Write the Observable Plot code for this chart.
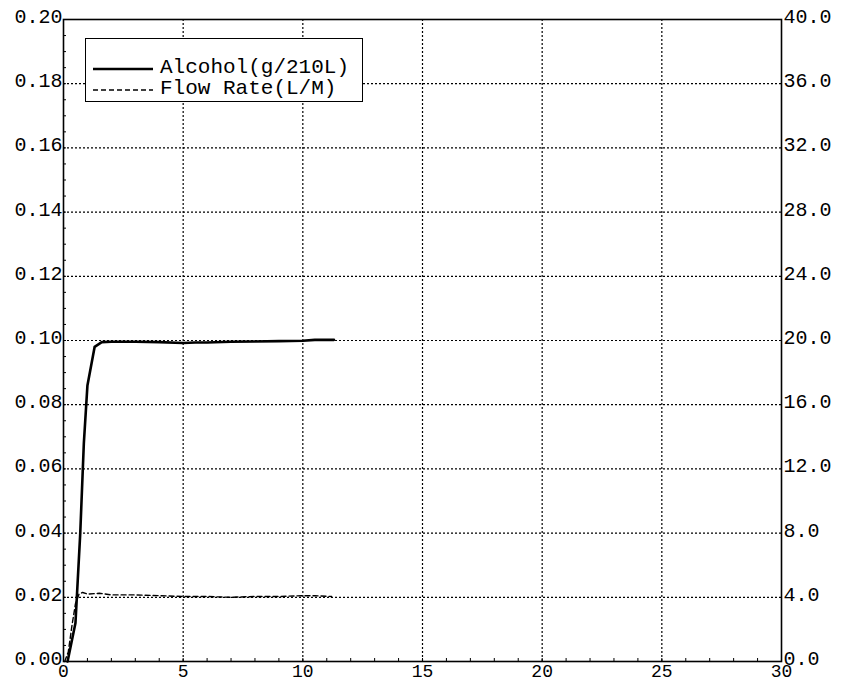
<!DOCTYPE html>
<html>
<head>
<meta charset="utf-8">
<script src="https://cdn.jsdelivr.net/npm/d3@7"></script>
<script src="https://cdn.jsdelivr.net/npm/@observablehq/plot@0.6"></script>
<style>
  body { margin: 0; background: #fff; }
  #wrap { position: relative; width: 849px; height: 686px; }
  #legend {
    position: absolute; left: 85px; top: 38px; width: 276px; height: 62px;
    border: 1.5px solid #000; background: #fff; box-sizing: content-box;
    font-family: "Liberation Mono", monospace; font-size: 21px; color: #000;
  }
  .row { position: absolute; left: 0; height: 22px; line-height: 22px; white-space: nowrap; }
  .row svg { position: absolute; left: 7px; top: 0; }
  .row span { position: absolute; left: 74px; top: 0; }
</style>
</head>
<body>
<div id="wrap">
  <div id="chart"></div>
  <div id="legend">
    <div class="row" style="top:18px"><svg width="62" height="22"><line x1="0" y1="12" x2="60" y2="12" stroke="#000" stroke-width="2.5"/></svg><span>Alcohol(g/210L)</span></div>
    <div class="row" style="top:39px"><svg width="62" height="22"><line x1="0" y1="12" x2="60" y2="12" stroke="#000" stroke-width="1.3" stroke-dasharray="5,3"/></svg><span>Flow Rate(L/M)</span></div>
  </div>
</div>
<script>
// Alcohol concentration (g/210L) vs time (s)
const alcoholTime  = [0.17, 0.5, 0.7, 0.85, 1.0, 1.3, 1.6, 2, 3, 4, 5, 5.5, 6, 7, 8, 9, 10, 10.5, 11.3];
const alcoholValue = [0.000, 0.012, 0.040, 0.068, 0.086, 0.098, 0.0995, 0.0996, 0.0996, 0.0995, 0.0992, 0.0994, 0.0994, 0.0996, 0.0997, 0.0998, 0.0999, 0.1002, 0.1002];

// Flow rate (L/M) vs time (s)
const flowTime  = [0.05, 0.2, 0.35, 0.5, 0.65, 0.8, 1.0, 1.5, 2, 3, 4, 5, 6, 7, 8, 9, 10, 10.5, 11.2];
const flowValue = [0.0, 0.6, 2.2, 3.6, 4.2, 4.3, 4.2, 4.25, 4.15, 4.15, 4.1, 4.05, 4.05, 4.0, 4.05, 4.05, 4.1, 4.1, 4.05];

// Axis ticks
const xTicks = [0, 5, 10, 15, 20, 25, 30];
const leftTicks = [0, 0.02, 0.04, 0.06, 0.08, 0.10, 0.12, 0.14, 0.16, 0.18, 0.20];
const rightTicks = [0, 4, 8, 12, 16, 20, 24, 28, 32, 36, 40];
const flowToLeft = 0.2 / 40;

const alcohol = alcoholTime.map((t, i) => ({t, v: alcoholValue[i]}));
const flow = flowTime.map((t, i) => ({t, v: flowValue[i] * flowToLeft}));

const xMinor = d3.range(0, 31, 1);
const yMinor = d3.range(0, 0.2001, 0.005);

const chart = Plot.plot({
  width: 849,
  height: 686,
  marginLeft: 63,
  marginRight: 68,
  marginTop: 19,
  marginBottom: 25,
  style: {fontFamily: "Liberation Mono, monospace", fontSize: "20px", color: "#000", background: "#fff"},
  x: {domain: [0, 30], label: null},
  y: {domain: [0, 0.2], label: null},
  marks: [
    Plot.ruleX(xTicks.slice(1, -1), {stroke: "#000", strokeWidth: 1.2, strokeDasharray: "2,2"}),
    Plot.ruleY(leftTicks.slice(1, -1), {stroke: "#000", strokeWidth: 1.2, strokeDasharray: "2,2"}),
    Plot.axisX(xMinor, {tickSize: -3, tickFormat: () => "", label: null, stroke: "#000"}),
    Plot.axisY(yMinor, {anchor: "left", tickSize: -3, tickFormat: () => "", label: null, stroke: "#000"}),
    Plot.axisX(xTicks, {tickSize: 0, tickPadding: 3, tickFormat: d => String(d), label: null, fontSize: 18}),
    Plot.axisY(leftTicks, {anchor: "left", tickSize: 0, tickPadding: 1, dy: -3, tickFormat: d => d.toFixed(2), label: null, fontSize: 20}),
    Plot.axisY(rightTicks.map(d => d * flowToLeft), {anchor: "right", tickSize: 0, tickPadding: 2, dy: -3, tickFormat: d => (d / flowToLeft).toFixed(1), label: null, fontSize: 20}),
    Plot.frame({stroke: "#000", strokeWidth: 1.6}),
    Plot.line(flow, {x: "t", y: "v", stroke: "#000", strokeWidth: 1.4, strokeDasharray: "5,3"}),
    Plot.line(alcohol, {x: "t", y: "v", stroke: "#000", strokeWidth: 2.6})
  ]
});
document.getElementById("chart").appendChild(chart);
</script>
</body>
</html>
